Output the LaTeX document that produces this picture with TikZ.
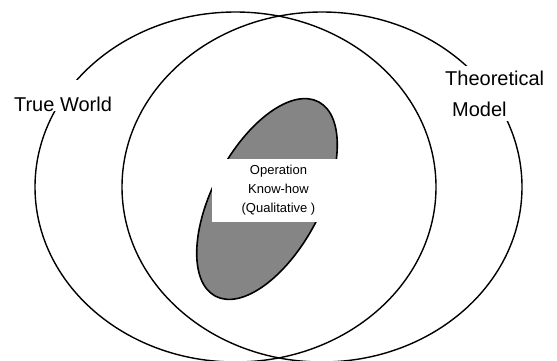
\documentclass[tikz,border=0pt]{standalone}
\usepackage{fontspec}
\setmainfont{Liberation Sans}
\begin{document}
\begin{tikzpicture}[x=1pt,y=1pt,
  world/.style={line width=1.4pt},
  tag/.style={fill=white, font=\fontsize{20}{31}\selectfont}]
\useasboundingbox (0,0) rectangle (557,360);
\coordinate (T) at (235.5,173);
\coordinate (M) at (322,173);
\coordinate (K) at (267,161);
% two worlds
\draw[world] (T) ellipse[x radius=200.5, y radius=175];
\draw[world] (M) ellipse[x radius=200, y radius=175];
% know-how region
\draw[line width=1.6pt, fill=black!48, rotate around={62:(K)}] (K) ellipse[x radius=110, y radius=54];
% labels
\node[fill=white, minimum width=133pt, minimum height=63pt, inner sep=0pt, align=center,
  font=\fontsize{13}{19}\selectfont] (knowhow) at (278.5,169.5) {Operation\\Know-how\\(Qualitative\ )};
\node[tag, anchor=base, inner xsep=2pt, inner ysep=0pt, text height=31pt, text depth=0pt]
  (true) at (63,249) {True World};
\node[tag, anchor=north west, align=left, inner xsep=3pt, inner ysep=5pt]
  (model) at (442,294.6) {Theoretical\\\hspace{7pt}Model};
\end{tikzpicture}
\end{document}
